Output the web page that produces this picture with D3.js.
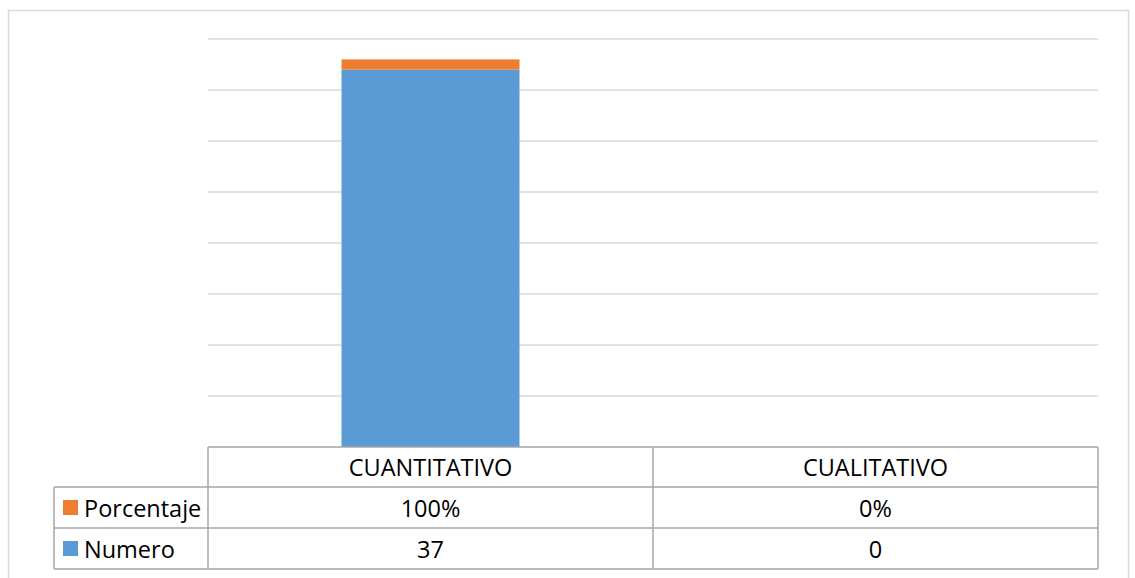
<!DOCTYPE html>
<html>
<head>
<meta charset="utf-8">
<script src="https://cdn.jsdelivr.net/npm/d3@7"></script>
<style>
  body { margin: 0; background: #fff; }
  svg text { font-family: "Open Sans", "Noto Sans", sans-serif; fill: #000; }
</style>
</head>
<body>
<svg id="chart" width="1135" height="578"></svg>
<script>
const categories = ["CUANTITATIVO", "CUALITATIVO"];
const series = ["Numero", "Porcentaje"];
const numero = [37, 0];
const porcentaje = [1, 0];
const porcentajeLabels = ["100%", "0%"];
const numeroLabels = ["37", "0"];
const colors = {Numero: "#5b9bd5", Porcentaje: "#ed7d31"};

const svg = d3.select("#chart");

// outer chart border
svg.append("rect")
  .attr("x", 8.5).attr("y", 10.5)
  .attr("width", 1120).attr("height", 600)
  .attr("fill", "none")
  .attr("stroke", "#d9d9d9")
  .attr("stroke-width", 1.5);

const x = d3.scaleBand()
  .domain(categories)
  .range([208, 1098])
  .paddingInner(0.6)
  .paddingOuter(0.3);

const y = d3.scaleLinear()
  .domain([0, 40])
  .range([447, 39]);

// gridlines
svg.append("g")
  .selectAll("line")
  .data(d3.range(5, 41, 5))
  .join("line")
    .attr("x1", 208).attr("x2", 1098)
    .attr("y1", d => y(d)).attr("y2", d => y(d))
    .attr("stroke", "#d9d9d9")
    .attr("stroke-width", 1.5);

const rows = categories.map((c, i) => ({cat: c, Numero: numero[i], Porcentaje: porcentaje[i]}));
const stacked = d3.stack().keys(series)(rows);

svg.append("g")
  .selectAll("g")
  .data(stacked)
  .join("g")
    .attr("fill", d => colors[d.key])
  .selectAll("rect")
  .data(d => d)
  .join("rect")
    .attr("x", d => x(d.data.cat))
    .attr("width", x.bandwidth())
    .attr("y", d => y(d[1]))
    .attr("height", d => y(d[0]) - y(d[1]));

// data table
const step = x.step();
const colLeft = 208, colRight = 1098;
const rowTops = [447, 487, 528, 569];
const legendLeft = 54;
const table = svg.append("g")
  .attr("stroke", "#a6a6a6")
  .attr("stroke-width", 1.5)
  .attr("fill", "none");

table.append("line").attr("x1", colLeft).attr("x2", colRight).attr("y1", rowTops[0]).attr("y2", rowTops[0]);
rowTops.slice(1).forEach(t => {
  table.append("line").attr("x1", legendLeft).attr("x2", colRight).attr("y1", t).attr("y2", t);
});
table.append("line").attr("x1", legendLeft).attr("x2", legendLeft).attr("y1", rowTops[1]).attr("y2", rowTops[3]);
[colLeft, colLeft + step, colRight].forEach(cx => {
  table.append("line").attr("x1", cx).attr("x2", cx).attr("y1", rowTops[0]).attr("y2", rowTops[3]);
});

const fs = 23.5;
const cellText = (txt, cx, top, bottom) => svg.append("text")
  .attr("x", cx).attr("y", (top + bottom) / 2)
  .attr("text-anchor", "middle")
  .attr("dominant-baseline", "central")
  .attr("font-size", fs)
  .text(txt);

categories.forEach((c, i) => {
  const cx = x(c) + x.bandwidth() / 2;
  cellText(c, cx, rowTops[0], rowTops[1]);
  cellText(porcentajeLabels[i], cx, rowTops[1], rowTops[2]);
  cellText(numeroLabels[i], cx, rowTops[2], rowTops[3]);
});

// legend keys in row headers
const legendRows = ["Porcentaje", "Numero"];
legendRows.forEach((s, i) => {
  const top = rowTops[i + 1], bottom = rowTops[i + 2];
  const mid = (top + bottom) / 2;
  svg.append("rect")
    .attr("x", 63).attr("y", mid - 7.5)
    .attr("width", 15).attr("height", 15)
    .attr("fill", colors[s]);
  svg.append("text")
    .attr("x", 84).attr("y", mid)
    .attr("dominant-baseline", "central")
    .attr("font-size", fs)
    .text(s);
});
</script>
</body>
</html>
